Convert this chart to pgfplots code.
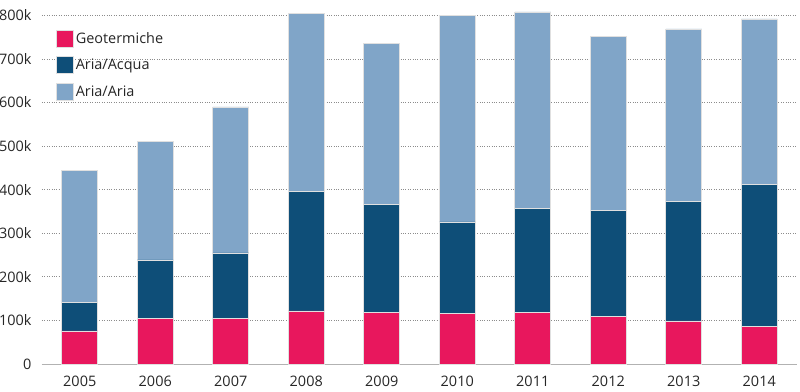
\documentclass[border=0pt]{standalone}
\usepackage{pgfplots}
\pgfplotsset{compat=1.18}
\usepackage{pgfplotstable}
\usepackage{fontspec}
\setmainfont{Open Sans}
\definecolor{geo}{HTML}{E8175D}
\definecolor{aacq}{HTML}{0E4E78}
\definecolor{aaria}{HTML}{80A5C8}
\pgfplotstableread{
x geo acq aria
0 76 66 303
1 105 134 271
2 105 150 335
3 122 275 408
4 119 248 369
5 116 210 474
6 119 239 450
7 109 244 398
8 99 275 395
9 87 326 379
}\data
\begin{document}
\begin{tikzpicture}
\begin{axis}[name=ax, scale only axis, width=755bp, height=364bp,
 ybar stacked, bar width=36bp,
 xmin=-0.5, xmax=9.5, ymin=0, ymax=835.4,
 axis x line*=bottom, axis y line*=left,
 y axis line style={draw=none},
 x axis line style={draw=black!30, line width=1bp},
 xtick={0,...,9},
 xticklabels={2005,2006,2007,2008,2009,2010,2011,2012,2013,2014},
 major x tick style={draw=none},
 extra x ticks={-0.5,9.5}, extra x tick labels={},
 extra x tick style={tick align=outside, major tick length=5bp, major tick style={draw=black!30, line width=1bp}},
 ytick={0,100,...,800},
 yticklabels={0,100k,200k,300k,400k,500k,600k,700k,800k},
 major y tick style={draw=none},
 ymajorgrids, grid style={dotted, draw=black!45, line width=0.8bp},
 /pgf/number format/assume math mode=true,
 tick label style={font=\fontsize{14.5}{16}\selectfont, text=black!85},
 y tick label style={xshift=-7bp},
 x tick label style={yshift=-9bp},
 legend style={draw=none, fill=none, at={(0.0185,0.924)}, anchor=north west,
   font=\fontsize{14.5}{16}\selectfont, text=black!85, row sep=9bp,
   legend cell align=left, inner xsep=0pt},
 legend image code/.code={\fill[#1] (0bp,-8.5bp) rectangle (17bp,8.5bp);},
 every axis plot/.append style={draw=black!12, line width=0.6bp},
]
\addplot[fill=geo] table[x=x,y=geo]{\data};
\addplot[fill=aacq] table[x=x,y=acq]{\data};
\addplot[fill=aaria] table[x=x,y=aria]{\data};
\legend{Geotermiche,Aria/Acqua,Aria/Aria}
\end{axis}
\pgfresetboundingbox
\path[use as bounding box] ([shift={(-42bp,-28bp)}]ax.south west) rectangle ([shift={(3bp,0bp)}]ax.north east);
\end{tikzpicture}
\end{document}
